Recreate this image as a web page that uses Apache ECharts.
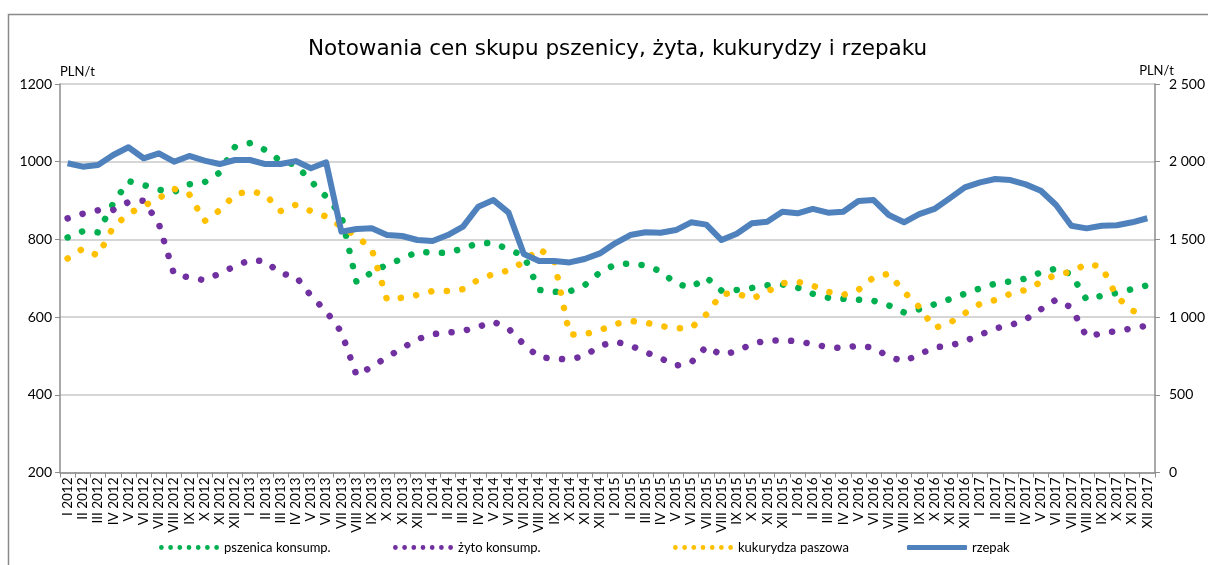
<!DOCTYPE html>
<html>
<head>
<meta charset="utf-8">
<script src="https://cdn.jsdelivr.net/npm/echarts@6/dist/echarts.min.js"></script>
<style>
    html, body { margin: 0; padding: 0; background: #fff; }
    #main { width: 1208px; height: 565px; }
</style>
</head>
<body>
<div id="main"></div>
<script type="text/javascript">
// miesiące I 2012 .. XII 2017
var romans = ['I','II','III','IV','V','VI','VII','VIII','IX','X','XI','XII'];
var years = [2012, 2013, 2014, 2015, 2016, 2017];
var months = [];
years.forEach(function (y) {
    romans.forEach(function (r) { months.push(r + ' ' + y); });
});

// PLN/t, oś lewa
var pszenica = [805,821,818,893,950,940,928,922,942,947,972,1038,1048,1030,1002,992,950,910,
    862,690,715,735,
    750,768,766,765,777,790,791,774,758,670,665,666,682,715,735,738,733,718,686,676,702,668,670,
    675,682,684,676,660,650,647,645,642,630,612,620,633,646,660,674,686,692,699,715,725,710,645,655,662,672,682];
var zyto = [854,866,875,876,896,900,840,710,702,695,712,731,747,744,712,705,655,615,562,450,472,497,
    520,543,556,560,564,575,588,570,530,497,493,491,500,526,537,527,510,494,475,483,524,503,512,
    531,540,540,538,530,523,520,527,521,498,486,504,522,526,538,554,571,579,594,620,645,625,550,558,564,571,578];
var kukurydza = [751,776,758,832,866,886,906,930,916,847,875,915,925,915,873,889,873,859,833,808,775,645,
    650,657,667,667,672,696,711,720,742,777,745,555,556,566,582,590,586,577,571,572,607,660,661,
    647,665,687,691,681,665,657,670,702,712,665,626,572,585,610,634,644,660,670,690,710,716,737,730,652,617,603];
// PLN/t, oś prawa
var rzepak = [1990,1968,1979,2043,2093,2022,2054,2000,2037,2007,1985,2011,2011,1985,1985,2004,1958,1996,1550,1567,
    1571,1528,1522,1496,1490,1528,1582,1710,1753,1672,1406,1361,1361,1352,1374,1410,1475,1528,1546,1543,
    1560,1610,1595,1496,1537,1604,1614,1678,1668,1696,1672,1678,1747,1753,1657,1610,1663,1696,1764,1835,
    1867,1889,1882,1854,1813,1721,1588,1571,1588,1591,1610,1636];

var seriesNames = ['pszenica konsump.', 'żyto konsump.', 'kukurydza paszowa', 'rzepak'];
var colors = ['#00b050', '#7030a0', '#ffc000', '#4f81bd'];

var txtFont = 'Lato';
var gridColor = '#c8c8c8';
var axisColor = '#8c8c8c';

// ikonka legendy: 7 kropek w rzędzie
var dotsIcon = 'path://';
for (var k = 0; k < 7; k++) {
    var cx = 2.5 + k * 9.6;
    dotsIcon += 'M' + (cx - 2.5) + ',2.5a2.5,2.5 0 1,0 5,0a2.5,2.5 0 1,0 -5,0Z';
}

function dotted(name, data, color) {
    return {
        name: name,
        type: 'line',
        data: data,
        yAxisIndex: 0,
        symbol: 'none',
        showSymbol: false,
        color: color,
        lineStyle: {
            color: color,
            width: 6.5,
            type: [0.1, 15.5],
            cap: 'round'
        },
        emphasis: { disabled: true }
    };
}

var chart = echarts.init(document.getElementById('main'));

var legendPos = [154, 388, 668, 902];
var legends = seriesNames.map(function (n, i) {
    var isLine = i === 3;
    return {
        left: legendPos[i],
        top: 536,
        data: [n],
        icon: isLine ? 'roundRect' : dotsIcon,
        itemWidth: 60,
        itemHeight: isLine ? 5 : 5,
        itemGap: 0,
        selectedMode: false,
        textStyle: { fontFamily: txtFont, fontSize: 13, color: '#000' }
    };
});

var option = {
    backgroundColor: '#fff',
    animation: false,
    color: colors,
    title: {
        text: 'Notowania cen skupu pszenicy, żyta, kukurydzy i rzepaku',
        left: 303,
        top: 33,
        textStyle: {
            fontFamily: 'DejaVu Sans',
            fontWeight: 'normal',
            fontSize: 21.5,
            color: '#000'
        }
    },
    legend: legends,
    grid: {
        left: 60,
        right: 43,
        top: 84,
        bottom: 92.5
    },
    xAxis: {
        type: 'category',
        data: months,
        boundaryGap: true,
        axisLine: { lineStyle: { color: axisColor, width: 1.5 } },
        axisTick: { show: true, interval: 0, length: 5, inside: false, lineStyle: { color: axisColor } },
        axisLabel: {
            interval: 0,
            rotate: 90,
            margin: 5,
            fontFamily: txtFont,
            fontSize: 13.5,
            color: '#000'
        },
        splitLine: { show: false }
    },
    yAxis: [
        {
            type: 'value',
            min: 200,
            max: 1200,
            interval: 200,
            position: 'left',
            name: 'PLN/t',
            nameLocation: 'end',
            nameGap: 6,
            nameTextStyle: { fontFamily: txtFont, fontSize: 13, color: '#000', align: 'left', verticalAlign: 'bottom' },
            axisLine: { show: true, lineStyle: { color: axisColor, width: 1.5 } },
            axisTick: { show: true, length: 5, lineStyle: { color: axisColor } },
            axisLabel: {
                fontFamily: txtFont, fontSize: 14, color: '#000', margin: 8,
                formatter: function (v) { return String(v); }
            },
            splitLine: { show: true, lineStyle: { color: gridColor, width: 1.5 } }
        },
        {
            type: 'value',
            min: 0,
            max: 2500,
            interval: 500,
            position: 'right',
            name: 'PLN/t',
            nameLocation: 'end',
            nameGap: 6,
            nameTextStyle: { fontFamily: txtFont, fontSize: 13, color: '#000', align: 'right', verticalAlign: 'bottom', padding: [0, -19, 0, 0] },
            axisLine: { show: true, lineStyle: { color: axisColor, width: 1.5 } },
            axisTick: { show: true, length: 5, lineStyle: { color: axisColor } },
            axisLabel: {
                fontFamily: txtFont,
                fontSize: 14,
                color: '#000',
                margin: 14,
                formatter: function (v) {
                    return String(v).replace(/\B(?=(\d{3})+(?!\d))/g, ' ');
                }
            },
            splitLine: { show: false }
        }
    ],
    graphic: [
        {
            type: 'polyline',
            silent: true,
            shape: { points: [[8.5, 565], [8.5, 14.5], [1208, 14.5]] },
            style: { stroke: '#8a8a8a', lineWidth: 1.5, fill: null }
        }
    ],
    series: [
        dotted(seriesNames[0], pszenica, colors[0]),
        dotted(seriesNames[1], zyto, colors[1]),
        dotted(seriesNames[2], kukurydza, colors[2]),
        {
            name: seriesNames[3],
            type: 'line',
            data: rzepak,
            yAxisIndex: 1,
            symbol: 'none',
            showSymbol: false,
            color: colors[3],
            lineStyle: { color: colors[3], width: 6, join: 'round' },
            emphasis: { disabled: true }
        }
    ]
};

chart.setOption(option);
</script>
</body>
</html>
